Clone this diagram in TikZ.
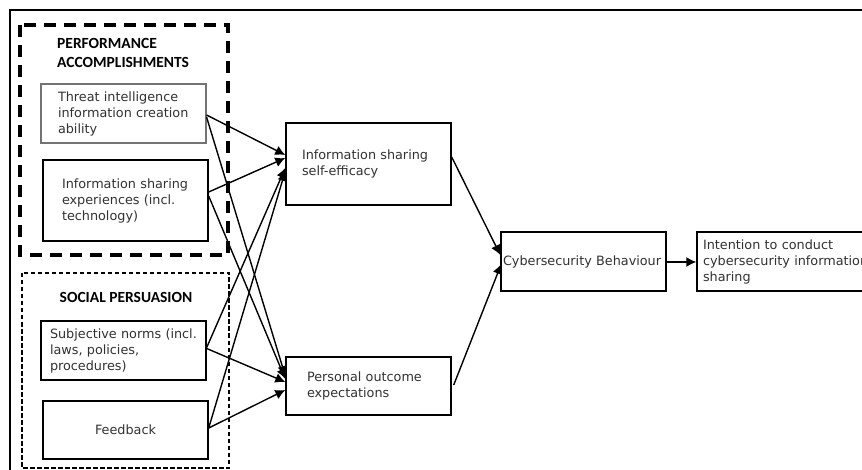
\documentclass[tikz,border=0pt]{standalone}
\usepackage{fontspec}
\setmainfont{DejaVu Sans}
\newfontfamily\titlefont{Carlito}
\usetikzlibrary{arrows.meta,calc}
\definecolor{txt}{RGB}{50,50,50}
\begin{document}
\begin{tikzpicture}[x=1pt,y=-1pt,
  box/.style={draw=black,line width=1.4pt,rectangle,minimum height=#1,align=left,
    text=txt,font=\fontsize{12.8}{16}\selectfont},
  ttl/.style={font=\titlefont\bfseries\fontsize{15.5}{19.5}\selectfont,text=black,align=left,inner sep=0pt},
  arr/.style={line width=1.4pt,-{Latex[length=10pt,width=10pt]}}]
\useasboundingbox (0,0) rectangle (862,470);
\clip (0,0) rectangle (862,470);
\fill[white] (0,0) rectangle (862,470);
% outer frame
\draw[line width=1.3pt] (10,10) rectangle (880,490);
% group boxes
\draw[line width=3.5pt,dash pattern=on 12pt off 8pt] (20,25) rectangle (228,255);
\draw[line width=1.2pt,dash pattern=on 4.5pt off 2.5pt] (22,273) rectangle (229,468);
\node[ttl,anchor=north west] (pa) at (57,38) {PERFORMANCE\\ACCOMPLISHMENTS};
\node[ttl] (sp) at (126,297) {SOCIAL PERSUASION};
% boxes
\node[box=59pt,draw=black!55,line width=1.1pt,inner xsep=17pt,text width=131pt] (threat) at (123.5,113.5)
  {Threat intelligence\\information creation\\ability};
\node[box=81pt,inner xsep=19pt,text width=127pt] (exp) at (125.5,200.5)
  {Information sharing\\experiences (incl.\\technology)};
\node[box=59pt,inner xsep=9pt,text width=147pt] (subj) at (123.5,350.5)
  {Subjective norms (incl.\\laws, policies,\\procedures)};
\node[box=58pt,minimum width=165pt,align=center] (fb) at (125.5,430) {Feedback};
\node[box=82pt,inner xsep=16pt,text width=133pt] (self) at (368.5,164)
  {Information sharing\\self-efficacy};
\node[box=58pt,inner xsep=21pt,text width=123pt] (pers) at (368.5,386)
  {Personal outcome\\expectations};
\node[box=59pt,inner xsep=2pt,text width=161pt] (cyber) at (583.5,261.5)
  {Cybersecurity Behaviour};
\node[box=59pt,inner xsep=6pt,text width=168pt] (int) at (787,261.5)
  {Intention to conduct\\cybersecurity information\\sharing};
% connectors
\draw[arr] ($(threat.east)+(0,1.5)$) -- ($(self.west)+(0,-9)$);
\draw[arr] ($(threat.east)+(0,3.5)$) -- ($(pers.west)+(0,-10)$);
\draw[arr] ($(exp.east)+(0,-8.5)$) -- ($(self.west)+(0,-6)$);
\draw[arr] ($(exp.east)+(0,-4.5)$) -- ($(pers.west)+(0,-7)$);
\draw[arr] ($(subj.east)+(0,-3)$) -- ($(self.west)+(0,4)$);
\draw[arr] ($(fb.east)+(0,-2)$) -- ($(self.west)+(0,7)$);
\draw[arr] ($(subj.east)+(0,-2)$) -- ($(pers.west)+(0,-4)$);
\draw[arr] ($(fb.east)+(0,-2)$) -- ($(pers.west)+(0,4)$);
\draw[arr] ($(self.east)+(0,-7)$) -- ($(cyber.west)+(0,-6.5)$);
\draw[arr] ($(pers.east)+(2,-1)$) -- ($(cyber.west)+(1,2.5)$);
\draw[arr] ($(cyber.east)+(0,0.5)$) -- ($(int.west)+(0,0.5)$);
\end{tikzpicture}
\end{document}
